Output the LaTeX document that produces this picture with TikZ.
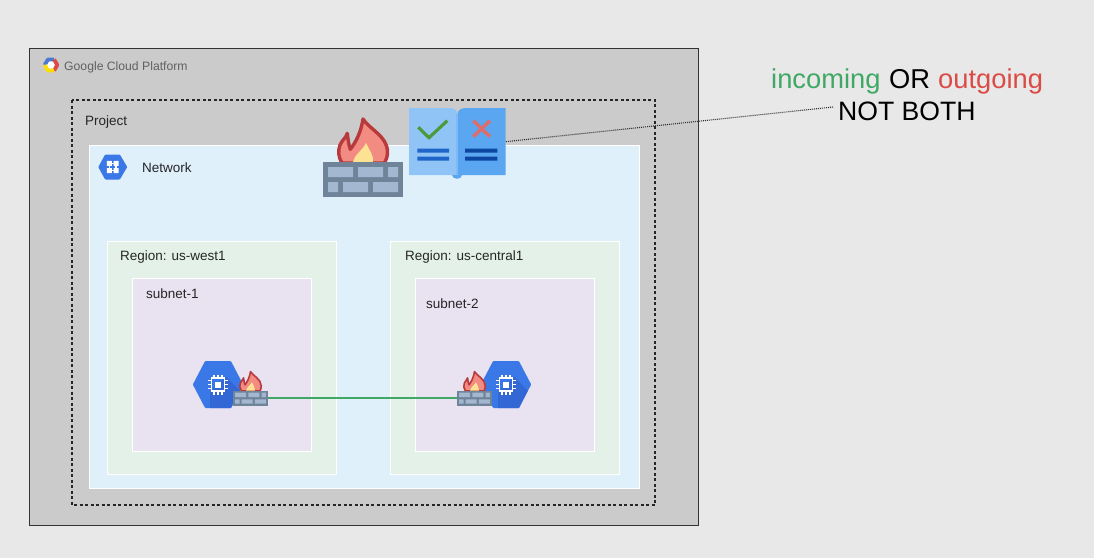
\documentclass[tikz,border=0pt]{standalone}
\usepackage{fontspec}
\setmainfont{Liberation Sans}
\definecolor{pagebg}{HTML}{E8E8E8}
\definecolor{gcpbg}{HTML}{CBCBCB}
\definecolor{netbg}{HTML}{DFF0FB}
\definecolor{regbg}{HTML}{E3F1E8}
\definecolor{subbg}{HTML}{E8E2F1}
\definecolor{hexblue}{HTML}{3B78E7}
\definecolor{hexdark}{HTML}{3367D6}
\definecolor{brick}{HTML}{6F8498}
\definecolor{brickin}{HTML}{A3B7D0}
\definecolor{flameo}{HTML}{B93A3C}
\definecolor{flamef}{HTML}{F28B82}
\definecolor{flamey}{HTML}{FDE293}
\definecolor{pageL}{HTML}{90C4F7}
\definecolor{pageR}{HTML}{5AA6F0}
\definecolor{okgreen}{HTML}{3FA864}
\definecolor{nored}{HTML}{DB4B45}
\definecolor{tick}{HTML}{4C9A3C}
\definecolor{cross}{HTML}{E06C6C}
\definecolor{lineL}{HTML}{1F66C8}
\definecolor{lineR}{HTML}{0D47A1}
\tikzset{
  panel/.style={draw=white,line width=1pt},
  lbl/.style={anchor=base west,inner sep=0pt,font=\fontsize{13.5}{16}\selectfont,text=black!85},
  big/.style={anchor=base west,inner sep=0pt,font=\fontsize{27.3}{30}\selectfont},
  pics/firewall/.style={code={
    \draw[flameo,fill=flamef,line width=#1,line join=round]
      (-21,1) .. controls (-25,-5) and (-25,-12) .. (-23,-17)
      .. controls (-21,-22) and (-17,-24) .. (-15.7,-28.7)
      .. controls (-15,-23) and (-14.5,-18) .. (-12.7,-12.7)
      .. controls (-7,-20) and (-2,-30) .. (0,-43)
      .. controls (6,-33) and (24.5,-26) .. (24.5,-10)
      .. controls (24.5,-5) and (23,-2) .. (21.5,1) -- cycle;
    \fill[flamey] (-10,0) .. controls (-9,-7) and (-1,-11) .. (3,-19)
      .. controls (6,-12) and (11,-7) .. (10,0) -- cycle;
    \node[transform shape,fill=brick,minimum width=80pt,minimum height=35pt,inner sep=0pt,anchor=north] (-base) at (0,0) {};
    \fill[brickin] (-35,5) rectangle (-10,15) (-5,5) rectangle (20,15) (25,5) rectangle (35,15)
      (-35,20) rectangle (-25,30) (-20,20) rectangle (5,30) (10,20) rectangle (35,30);
  }},
  pics/vmhex/.style={code={
    \draw[hexblue,fill=hexblue,line width=3pt,line join=round]
      (-23.5,0) -- (-12,-22) -- (12,-22) -- (23.5,0) -- (12,22) -- (-12,22) -- cycle;
    \begin{scope}
      \clip (-25,0) -- (-13,-23.5) -- (13,-23.5) -- (25,0) -- (13,23.5) -- (-13,23.5) -- cycle;
      \fill[hexdark] (8,-8) -- (40,24) -- (-8,40) -- (-8,8) -- cycle;
    \end{scope}
    \draw[white,line width=1.6pt] (-6.5,-6.5) rectangle (6.5,6.5);
    \fill[white] (-3,-3) rectangle (3,3);
    \draw[white,line width=1.2pt]
      (-10,-4) -- (-6.5,-4) (-10,0) -- (-6.5,0) (-10,4) -- (-6.5,4)
      (10,-4) -- (6.5,-4) (10,0) -- (6.5,0) (10,4) -- (6.5,4)
      (-4,-10) -- (-4,-6.5) (0,-10) -- (0,-6.5) (4,-10) -- (4,-6.5)
      (-4,10) -- (-4,6.5) (0,10) -- (0,6.5) (4,10) -- (4,6.5);
  }}
}
\begin{document}
\begin{tikzpicture}[x=1pt,y=-1pt]
\useasboundingbox (0,0) rectangle (1094,558);
\fill[pagebg] (0,0) rectangle (1094,558);
% containers
\draw[draw=black!80,fill=gcpbg,line width=1pt] (29,48) rectangle (698,525);
\draw[black!85,line width=1.2pt,dash pattern=on 3pt off 2.5pt] (72,100) rectangle (655,505);
\draw[panel,fill=netbg] (89,145) rectangle (639,488);
\draw[panel,fill=regbg] (107,241) rectangle (336,474);
\draw[panel,fill=subbg] (132,278) rectangle (311,451);
\draw[panel,fill=regbg] (390,241) rectangle (619,474);
\draw[panel,fill=subbg] (415,278) rectangle (594,451);
% GCP logo
\draw[white,fill=white] (51,65) circle (4);
\draw[line width=3.8pt,line join=round,color=hexblue!80!gray] (44.7,65) -- (47.9,59.5) -- (54.1,59.5);
\draw[line width=3.8pt,line join=round,color=nored] (54.1,59.5) -- (57.3,65) -- (54.1,70.5);
\draw[line width=3.8pt,line join=round,color=yellow!80!orange] (54.1,70.5) -- (47.9,70.5) -- (44.7,65);
\node[lbl,text=black!62,font=\fontsize{12.2}{15}\selectfont] (gcp) at (64,70) {Google Cloud Platform};
% labels
\node[lbl] (project) at (85,125) {Project};
\node[lbl] (network) at (142,172) {Network};
\node[lbl] (regA) at (120,260) {Region: us-west1};
\node[lbl] (subA) at (146,298) {subnet-1};
\node[lbl] (regB) at (405,260) {Region: us-central1};
\node[lbl] (subB) at (426,308) {subnet-2};
% network icon
\draw[hexblue,fill=hexblue,line width=3pt,line join=round] (100,167) -- (106,156) -- (119,156) -- (125.5,167) -- (119,178) -- (106,178) -- cycle;
\draw[white,line width=1.4pt] (109.5,163.5) rectangle (116,170.5);
\fill[white] (106.8,160.8) rectangle (111.8,165.8) (113.7,160.8) rectangle (118.7,165.8)
  (106.8,168.2) rectangle (111.8,173.2) (113.7,168.2) rectangle (118.7,173.2);
% book
\fill[pageL] (409,108) -- (450,108) .. controls (454,108) and (457,110) .. (457.5,114) -- (457.5,175) -- (409,175) -- cycle;
\fill[pageR] (505.7,108) -- (466,108) .. controls (461,108) and (458,110) .. (457.5,114) -- (457.5,175) -- (505.7,175) -- cycle;
\fill[pageR] (452,175) .. controls (452,180) and (462,180) .. (462,175) -- cycle;
\fill[pageL!70!pageR] (455.5,114) rectangle (458,175);
\node[inner sep=0pt,minimum width=96.7pt,minimum height=66.7pt] (book) at (457.35,141.65) {};
\draw[tick,line width=3.2pt] (418.3,127.3) -- (429,137.7) -- (447.3,120.7);
\draw[cross,line width=3.4pt] (473.3,120.7) -- (490,136.7) (490,120.7) -- (473.3,136.7);
\fill[lineL] (417.3,148.7) rectangle (449,152.7) (417.3,156.7) rectangle (449,160.7);
\fill[lineR] (465,148.7) rectangle (497.3,152.7) (465,156.7) rectangle (497.3,160.7);
% firewalls and VMs
\pic (fwBig) at (363,162) {firewall=3.4pt};
\pic (vmA) at (218,384.5) {vmhex};
\pic (vmB) at (506,384.5) {vmhex};
\pic[scale=.44] (fwA) at (250.5,390.5) {firewall=1.6pt};
\pic[scale=.44] (fwB) at (474.5,390.5) {firewall=1.6pt};
\draw[okgreen,line width=2pt] (fwA-base.east) -- (fwB-base.west);
% callout
\node[big,text=okgreen] (inc) at (771,88) {incoming};
\node[big,text=black] (orw) at (889,88) {OR};
\node[big,text=nored] (out) at (938,88) {outgoing};
\node[big,text=black,font=\fontsize{26.6}{30}\selectfont] (notboth) at (838,120) {NOT BOTH};
\coordinate (dotend) at (833,107);
\draw[black!80,line width=1.1pt,dash pattern=on 1pt off 1pt] (book.east) -- (dotend);
\end{tikzpicture}
\end{document}
